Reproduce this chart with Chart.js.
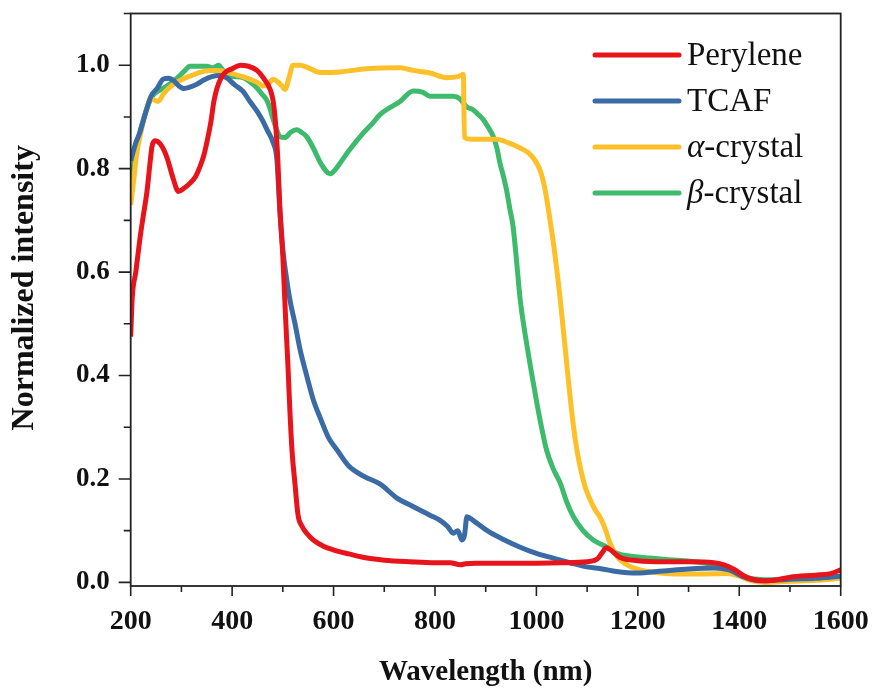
<!DOCTYPE html>
<html>
<head>
<meta charset="utf-8">
<script src="https://cdn.jsdelivr.net/npm/chart.js@4.4.1/dist/chart.umd.min.js"></script>
<style>
  html, body { margin: 0; padding: 0; background: #ffffff; }
  #wrap { width: 874px; height: 691px; }
</style>
</head>
<body>
<div id="wrap"><canvas id="c" width="874" height="691"></canvas></div>
<script>
// ---- Data ----
const seriesNames = ["Perylene", "TCAF", "\u03b1-crystal", "\u03b2-crystal"];
const seriesColors = ["#e8141b", "#3b6ba5", "#fdc028", "#3dba6c"];

const perX = [200,203,210,218,225,232,238,242,248,258,271,284,294,305,317,328,337,344,350,358,364,370,378,386,400,416,432,449,462,475,481,485,490,494,500,505,510,514,518,524,530,538,547,560,580,599,630,666,700,750,800,830,850,860,880,950,1050,1100,1120,1130,1138,1150,1165,1200,1250,1300,1350,1370,1390,1410,1430,1450,1480,1500,1550,1580,1600];
const perY = [0.475,0.55,0.60,0.663,0.71,0.755,0.81,0.843,0.854,0.848,0.823,0.78,0.756,0.762,0.772,0.785,0.805,0.825,0.85,0.89,0.93,0.955,0.975,0.986,0.993,1.0,0.998,0.99,0.975,0.953,0.93,0.895,0.82,0.727,0.63,0.52,0.42,0.33,0.256,0.19,0.13,0.108,0.095,0.082,0.07,0.063,0.055,0.047,0.043,0.04,0.038,0.038,0.034,0.036,0.037,0.037,0.038,0.04,0.045,0.058,0.067,0.06,0.048,0.042,0.04,0.04,0.038,0.034,0.025,0.012,0.005,0.003,0.006,0.01,0.014,0.017,0.024];

const tcafX = [200,210,218,230,240,252,264,275,285,295,305,318,330,345,360,375,390,405,421,435,449,460,469,481,488,494,500,507,514,524,534,547,560,575,590,607,630,660,692,725,750,770,790,810,825,836,845,853,858,863,875,903,935,968,1000,1033,1066,1099,1130,1158,1198,1250,1300,1350,1380,1410,1440,1470,1500,1550,1600];
const tcafY = [0.815,0.85,0.87,0.91,0.94,0.955,0.973,0.975,0.97,0.96,0.955,0.958,0.963,0.972,0.978,0.98,0.975,0.962,0.95,0.93,0.911,0.893,0.875,0.85,0.82,0.72,0.643,0.59,0.546,0.5,0.45,0.40,0.353,0.315,0.28,0.256,0.225,0.205,0.19,0.163,0.15,0.14,0.13,0.12,0.108,0.095,0.1,0.082,0.09,0.127,0.12,0.1,0.083,0.068,0.056,0.047,0.038,0.03,0.026,0.021,0.018,0.022,0.026,0.028,0.024,0.01,0.003,0.004,0.006,0.008,0.012];

const alphaX = [200,205,212,220,230,240,254,265,280,300,320,340,357,375,395,420,449,461,470,481,490,498,504,512,520,534,550,573,612,665,731,757,790,823,845,856,858,870,888,921,945,968,985,998,1008,1016,1023,1030,1037,1047,1057,1067,1076,1086,1096,1106,1116,1126,1135,1145,1159,1175,1191,1220,1244,1280,1323,1376,1400,1421,1450,1500,1553,1600];
const alphaY = [0.73,0.77,0.83,0.87,0.91,0.935,0.93,0.945,0.96,0.972,0.98,0.987,0.99,0.99,0.985,0.978,0.967,0.96,0.962,0.973,0.968,0.96,0.953,0.975,1.0,1.0,0.995,0.986,0.987,0.993,0.995,0.99,0.985,0.976,0.978,0.982,0.86,0.857,0.857,0.857,0.85,0.84,0.83,0.815,0.795,0.765,0.725,0.68,0.63,0.547,0.45,0.353,0.28,0.224,0.185,0.16,0.14,0.125,0.105,0.076,0.05,0.036,0.028,0.021,0.018,0.016,0.016,0.017,0.012,0.004,0.0,0.002,0.004,0.008];

const betaX = [200,210,218,225,235,245,258,272,285,297,307,317,335,350,362,373,382,390,405,422,435,449,458,468,475,481,488,494,504,515,527,537,547,560,575,593,605,618,632,655,678,692,731,757,775,790,815,836,849,862,875,885,895,905,915,922,928,935,941,948,954,961,968,981,994,1007,1020,1033,1047,1060,1073,1092,1112,1139,1159,1190,1224,1260,1303,1330,1356,1388,1405,1421,1460,1500,1553,1600];
const betaY = [0.773,0.83,0.87,0.895,0.925,0.943,0.952,0.96,0.97,0.98,0.99,0.998,0.998,0.998,0.995,1.0,0.99,0.98,0.978,0.976,0.968,0.956,0.945,0.933,0.915,0.895,0.875,0.862,0.86,0.87,0.875,0.87,0.862,0.84,0.81,0.79,0.80,0.818,0.837,0.865,0.889,0.905,0.93,0.95,0.948,0.94,0.94,0.94,0.935,0.92,0.914,0.905,0.895,0.88,0.862,0.84,0.811,0.785,0.759,0.72,0.688,0.62,0.547,0.46,0.385,0.315,0.256,0.22,0.192,0.155,0.127,0.1,0.082,0.068,0.056,0.05,0.047,0.044,0.041,0.038,0.033,0.024,0.015,0.008,0.005,0.006,0.008,0.01];

const xTickValues = [200,300,400,500,600,700,800,900,1000,1100,1200,1300,1400,1500,1600];
const yTickValues = [0,0.1,0.2,0.3,0.4,0.5,0.6,0.7,0.8,0.9,1.0,1.1];

const seriesX = [perX, tcafX, alphaX, betaX];
const seriesY = [perY, tcafY, alphaY, betaY];

function pairs(xs, ys) { return xs.map((x, i) => ({ x: x, y: ys[i] })); }

const datasets = seriesNames.map((name, i) => ({
  label: name,
  data: pairs(seriesX[i], seriesY[i]),
  borderColor: seriesColors[i],
  backgroundColor: seriesColors[i],
  borderWidth: 5,
  pointRadius: 0,
  cubicInterpolationMode: 'monotone',
  fill: false
}));

const FONT = "'Liberation Serif', 'Times New Roman', serif";

// Frame, custom-length tick marks and legend
const framePlugin = {
  id: 'frame',
  beforeDatasetsDraw(chart) {
    const ctx = chart.ctx, a = chart.chartArea;
    const xs = chart.scales.x, ys = chart.scales.y;
    ctx.save();
    ctx.strokeStyle = '#222';
    ctx.lineWidth = 1.6;
    ctx.beginPath();
    xTickValues.forEach(v => {
      const px = xs.getPixelForValue(v);
      const len = (v % 200 === 0) ? 10 : 6;
      ctx.moveTo(px, a.bottom); ctx.lineTo(px, a.bottom + len);
    });
    yTickValues.forEach((v, i) => {
      const py = ys.getPixelForValue(v);
      const len = (i % 2 === 0) ? 12 : 7;
      ctx.moveTo(a.left, py); ctx.lineTo(a.left - len, py);
    });
    ctx.stroke();
    ctx.restore();
  },
  afterDatasetsDraw(chart) {
    const ctx = chart.ctx, a = chart.chartArea;
    ctx.save();
    ctx.strokeStyle = '#222';
    ctx.lineWidth = 1.8;
    ctx.strokeRect(a.left, a.top, a.right - a.left, a.bottom - a.top);
    ctx.restore();
  },
  afterDraw(chart) {
    const ctx = chart.ctx;
    const rows = [55, 101, 147, 193];
    ctx.save();
    chart.data.datasets.forEach((ds, i) => {
      const y = rows[i];
      ctx.strokeStyle = ds.borderColor;
      ctx.lineWidth = 5;
      ctx.lineCap = 'round';
      ctx.beginPath();
      ctx.moveTo(595, y); ctx.lineTo(679, y);
      ctx.stroke();
      ctx.fillStyle = '#111';
      ctx.textBaseline = 'middle';
      ctx.textAlign = 'left';
      let x = 687;
      let label = ds.label;
      const first = label.charAt(0);
      if (first === '\u03b1' || first === '\u03b2') {
        ctx.font = 'italic 33px ' + FONT;
        ctx.fillText(first, x, y + 1);
        x += ctx.measureText(first).width;
        label = label.slice(1);
      }
      ctx.font = '33px ' + FONT;
      ctx.fillText(label, x, y + 1);
    });
    ctx.restore();
  }
};

new Chart(document.getElementById('c'), {
  type: 'line',
  data: { datasets: datasets },
  options: {
    responsive: false,
    animation: false,
    events: [],
    layout: { padding: { top: 13.5, right: 33.3, left: 0, bottom: 0 } },
    plugins: { legend: { display: false }, tooltip: { enabled: false } },
    scales: {
      x: {
        type: 'linear',
        min: 200, max: 1600,
        grid: { display: false },
        border: { display: false },
        ticks: {
          stepSize: 100,
          autoSkip: false,
          maxRotation: 0,
          padding: 11,
          color: '#111',
          font: { family: FONT, size: 28, weight: 'bold' },
          callback: v => (v % 200 === 0 ? String(v) : '')
        },
        title: {
          display: true,
          text: 'Wavelength (nm)',
          color: '#111',
          font: { family: FONT, size: 29, weight: 'bold' },
          padding: { top: 0, bottom: 1 }
        },
        afterFit(s) { s.height = 105; s.paddingLeft = 0; s.paddingRight = 0; }
      },
      y: {
        type: 'linear',
        min: -0.007, max: 1.1,
        grid: { display: false },
        border: { display: false },
        ticks: {
          stepSize: 0.1,
          includeBounds: false,
          autoSkip: false,
          padding: 13,
          color: '#111',
          font: { family: FONT, size: 27, weight: 'bold' },
          callback: v => {
            const r = Math.round(v * 10);
            return (r % 2 === 0 && r <= 10 && r >= 0) ? (r / 10).toFixed(1) : '';
          }
        },
        title: {
          display: true,
          text: '   Normalized intensity',
          color: '#111',
          font: { family: FONT, size: 32, weight: 'bold' },
          padding: { top: 6, bottom: 0 }
        },
        afterFit(s) { s.width = 130.7; s.paddingTop = 0; s.paddingBottom = 0; }
      }
    }
  },
  plugins: [framePlugin]
});
</script>
</body>
</html>
